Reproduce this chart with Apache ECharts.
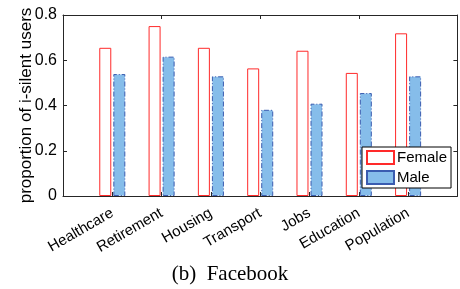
<!DOCTYPE html>
<html>
<head>
<meta charset="utf-8">
<script src="https://cdn.jsdelivr.net/npm/echarts@6/dist/echarts.min.js"></script>
<style>
    html, body {margin: 0; padding: 0; background: #fff;}
    #main {width: 460px; height: 289px;}
</style>
</head>
<body>
<div id="main"></div>
<script>
// 类别（两端留空，和原图一样左右各空半格）
var categories = ['', 'Healthcare', 'Retirement', 'Housing', 'Transport', 'Jobs', 'Education', 'Population', ''];
var female = [null, 0.655, 0.751, 0.655, 0.564, 0.642, 0.544, 0.719, null];
var male = [null, 0.539, 0.616, 0.529, 0.381, 0.408, 0.455, 0.529, null];
var yTicks = [0, 0.2, 0.4, 0.6, 0.8];

var font = 'Liberation Sans, Arial, sans-serif';
var axisColor = '#262626';

var myChart = echarts.init(document.getElementById('main'));
var option = {
    animation: false,
    backgroundColor: '#fff',
    title: {
        text: '(b)  Facebook',
        left: 'center',
        top: 259,
        textStyle: {
            fontFamily: 'Liberation Serif, Times New Roman, serif',
            fontWeight: 'normal',
            fontSize: 21,
            color: '#000'
        }
    },
    grid: {
        left: 63,
        right: 1,
        top: 15,
        bottom: 93
    },
    legend: {
        orient: 'vertical',
        left: 362,
        top: 147,
        padding: [3, 4, 3, 4],
        itemWidth: 27,
        itemHeight: 13,
        itemGap: 5,
        icon: 'rect',
        borderColor: '#000',
        borderWidth: 1,
        backgroundColor: '#fff',
        textStyle: {fontFamily: font, fontSize: 15, color: '#000', padding: [0, 0, 0, -2]},
        data: ['Female', 'Male']
    },
    xAxis: [{
        type: 'category',
        data: categories,
        boundaryGap: false,
        axisLine: {lineStyle: {color: axisColor, width: 1}},
        axisTick: {inside: true, length: 4, lineStyle: {color: axisColor}},
        axisLabel: {
            rotate: 30,
            interval: 0,
            margin: 16,
            fontFamily: font,
            fontSize: 15,
            color: '#000'
        }
    }, {
        type: 'category',
        data: categories,
        boundaryGap: false,
        position: 'top',
        axisLine: {onZero: false, lineStyle: {color: axisColor, width: 1}},
        axisTick: {inside: true, length: 4, lineStyle: {color: axisColor}},
        axisLabel: {show: false}
    }],
    yAxis: [{
        type: 'value',
        min: yTicks[0],
        max: yTicks[yTicks.length - 1],
        interval: 0.2,
        name: 'proportion of i-silent users',
        nameLocation: 'middle',
        nameGap: 28,
        nameMoveOverlap: false,
        nameTextStyle: {fontFamily: font, fontSize: 17, color: '#000'},
        splitLine: {show: false},
        axisLine: {show: true, lineStyle: {color: axisColor, width: 1}},
        axisTick: {show: true, inside: true, length: 4, lineStyle: {color: axisColor}},
        axisLabel: {
            margin: 6,
            fontFamily: font,
            fontSize: 16,
            color: '#000',
            formatter: function (v) {
                return v === 0 ? '0' : v.toFixed(1);
            }
        }
    }, {
        type: 'value',
        position: 'right',
        min: yTicks[0],
        max: yTicks[yTicks.length - 1],
        interval: 0.2,
        splitLine: {show: false},
        axisLine: {show: true, onZero: false, lineStyle: {color: axisColor, width: 1}},
        axisTick: {show: true, inside: true, length: 4, lineStyle: {color: axisColor}},
        axisLabel: {show: false}
    }],
    series: [{
        name: 'Female',
        type: 'bar',
        data: female,
        barWidth: 12,
        barGap: '17%',
        itemStyle: {
            color: '#fff',
            borderColor: '#ff2a2a',
            borderWidth: 1
        }
    }, {
        name: 'Male',
        type: 'bar',
        data: male,
        barWidth: 12,
        itemStyle: {
            color: '#86bdea',
            borderColor: '#3a5cb0',
            borderWidth: 1,
            borderType: [5, 2, 1, 2]
        }
    }]
};
myChart.setOption(option);
</script>
</body>
</html>
